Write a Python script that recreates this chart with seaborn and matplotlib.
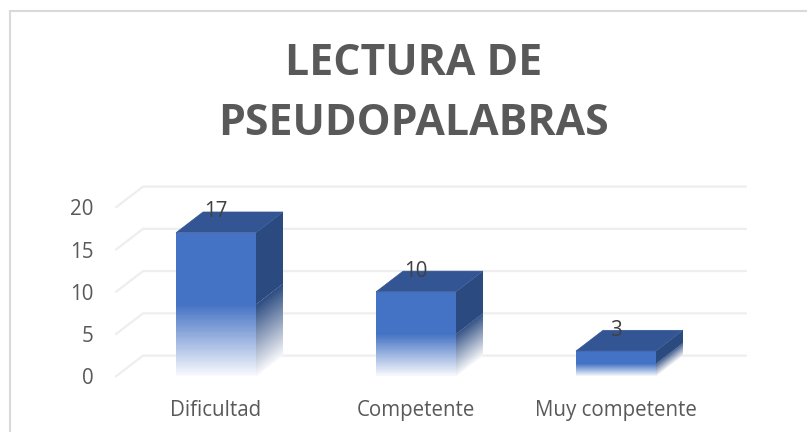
import numpy as np
import pandas as pd
import matplotlib
matplotlib.use('Agg')
import matplotlib.pyplot as plt
import seaborn as sns
from matplotlib.colors import to_rgb
from matplotlib.patches import Polygon
from matplotlib.lines import Line2D

# Data
categories = ['Dificultad', 'Competente', 'Muy competente']
values = [17, 10, 3]
y_ticks = [0, 5, 10, 15, 20]

df = pd.DataFrame({'pos': range(len(categories)), 'n': values})

sns.set_theme(style='white')
plt.rcParams['font.family'] = ['Open Sans', 'DejaVu Sans']

W, H = 807, 432
fig = plt.figure(figsize=(W / 100, H / 100), dpi=100)

# axes box in pixels of the picture
left, right, top, bottom = 116, 719, 207.3, 376.3
ax = fig.add_axes([left / W, 1 - bottom / H, (right - left) / W, (bottom - top) / H])

FRONT = '#4472c4'
SIDE = '#2a4a80'
TOP = '#335593'

sns.barplot(data=df, x='pos', y='n', color=FRONT, saturation=1, width=0.4,
            native_scale=True, linewidth=0, ax=ax, zorder=3)
ax.set_xlim(-0.5, (right - 216) / 200)
ax.set_ylim(0, 20)

# depth of the fake 3d, in data units
dx = 27 / 200
dy = 20.7 / 8.45

# back wall grid lines and the diagonal lines on the left
for t in y_ticks:
    ax.plot([-0.5, -0.5 + dx, -0.5 + dx + 603 / 200], [t, t + dy, t + dy],
            color='#eeeeee', lw=1.6, clip_on=False, zorder=1, solid_joinstyle='miter')


def fade(xa, xb, rise, height, color, n=60):
    # opaque strips from the bar colour (half way up) to white at the floor
    rgb = np.array(to_rgb(color))
    for k in range(n):
        h0 = height * k / n
        h1 = height * min((k + 1.6) / n, 1)
        c = rgb + (1 - rgb) * 0.97 * (1 - (k + 0.5) / n)
        ax.add_patch(Polygon([(xa, h0), (xb, h0 + rise), (xb, h1 + rise), (xa, h1)],
                             fc=c, ec='none', zorder=4 + k / n, clip_on=False))


for i, v in enumerate(values):
    x0, x1 = i - 0.2, i + 0.2
    fade(x0, x1, 0, v / 2, FRONT)
    ax.add_patch(Polygon([(x1, v / 2), (x1 + dx, v / 2 + dy), (x1 + dx, v + dy), (x1, v)],
                         fc=SIDE, ec='none', zorder=3, clip_on=False))
    # side strips follow the slope of the floor
    fade(x1, x1 + dx, dy, v / 2, SIDE)
    ax.add_patch(Polygon([(x0, v), (x1, v), (x1 + dx, v + dy), (x0 + dx, v + dy)],
                         fc=TOP, ec=TOP, lw=0.4, zorder=3, clip_on=False))
    ax.text(i, v + dy, str(v), ha='center', va='center', fontsize=14.8,
            color='#404040', zorder=6, clip_on=False)

sns.despine(ax=ax, left=True, bottom=True)
ax.set_xlabel('')
ax.set_ylabel('')
ax.set_xticks(range(len(categories)))
ax.set_xticklabels(categories)
ax.set_yticks(y_ticks)
ax.tick_params(axis='y', length=0, pad=16, labelsize=14.8, labelcolor='#595959')
ax.tick_params(axis='x', length=0, pad=17, labelsize=14.8, labelcolor='#595959')

fig.text(414 / W, 1 - 93.5 / H, 'LECTURA DE\nPSEUDOPALABRAS', ha='center', va='center',
         fontsize=30.8, fontweight='bold', color='#595959', linespacing=1.5)

# chart border, only the left and top edges are inside the picture
fig.add_artist(Line2D([9.5 / W, 9.5 / W, 1], [0, 1 - 10.5 / H, 1 - 10.5 / H],
                      color='#d9d9d9', lw=1.5, solid_joinstyle='miter'))

fig.savefig('out.png', dpi=100)
